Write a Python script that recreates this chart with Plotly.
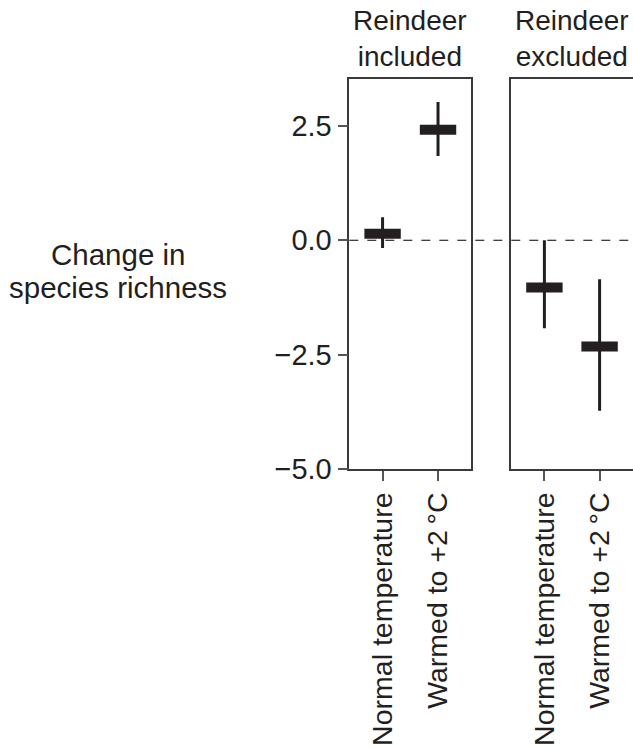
import plotly.graph_objects as go

categories = ["Normal temperature", "Warmed to +2\u2009°C"]
panels = ["Reindeer<br>included", "Reindeer<br>excluded"]
mean_included = [0.14, 2.41]
low_included = [-0.17, 1.84]
high_included = [0.50, 3.02]
mean_excluded = [-1.03, -2.32]
low_excluded = [-1.92, -3.72]
high_excluded = [0.00, -0.85]
yticks = [2.5, 0.0, -2.5, -5.0]
yticktext = ["2.5", "0.0", "\u22122.5", "\u22125.0"]
ytitle_lines = ["Change in", "species richness"]

W, H = 633, 749
DARK = "#231F20"
FONT = "Liberation Sans, Arial, Helvetica, sans-serif"

fig = go.Figure()

def px_x(v):
    return v / W

def px_y(v):
    return 1 - v / H

dom1 = [px_x(349.3), px_x(471.3)]
dom2 = [px_x(511.3), px_x(632.7)]
ydom = [px_y(469.3), px_y(79)]

series = [
    (mean_included, low_included, high_included, "x", "y"),
    (mean_excluded, low_excluded, high_excluded, "x2", "y2"),
]
for m, lo, hi, xa, ya in series:
    fig.add_trace(go.Scatter(
        x=categories, y=m, mode="markers", xaxis=xa, yaxis=ya,
        marker=dict(symbol="line-ew", size=26, color=DARK,
                    line=dict(width=10, color=DARK)),
        error_y=dict(type="data", symmetric=False,
                     array=[h - v for h, v in zip(hi, m)],
                     arrayminus=[v - l for v, l in zip(m, lo)],
                     width=0, thickness=3, color=DARK),
        showlegend=False, hoverinfo="skip",
    ))

axis_common = dict(showline=True, mirror=True, linecolor="#3a3a3a", linewidth=1.5,
                   showgrid=False, zeroline=False,
                   ticks="outside", ticklen=10, tickwidth=1.5, tickcolor="#555")
xfont = dict(size=28.5, color=DARK, family=FONT)
yfont = dict(size=29, color=DARK, family=FONT)

fig.update_layout(
    width=W, height=H, margin=dict(l=0, r=0, t=0, b=0, autoexpand=False),
    paper_bgcolor="white", plot_bgcolor="white",
    xaxis=dict(domain=dom1, anchor="y", type="category", range=[-0.6, 1.6],
               tickangle=-90, automargin=False, tickfont=xfont, **axis_common),
    xaxis2=dict(domain=dom2, anchor="y2", type="category", range=[-0.6, 1.6],
                tickangle=-90, automargin=False, tickfont=xfont, **axis_common),
    yaxis=dict(domain=ydom, anchor="x", range=[-5, 3.52], tickvals=yticks,
               ticktext=yticktext, automargin=False, tickfont=yfont, **axis_common),
    yaxis2=dict(domain=ydom, anchor="x2", range=[-5, 3.52], showticklabels=False,
                automargin=False, **{**axis_common, "ticks": ""}),
)

fig.add_shape(type="line", xref="paper", yref="y", x0=dom1[0], x1=1, y0=0, y1=0,
              line=dict(color="black", width=1.2, dash="dash"))

for t, dom in zip(panels, [dom1, dom2]):
    fig.add_annotation(text=t, xref="paper", yref="paper",
                       x=(dom[0] + dom[1]) / 2, y=px_y(38.5), showarrow=False,
                       xanchor="center", yanchor="middle",
                       font=dict(size=28, color=DARK, family=FONT))

for line, yc in zip(ytitle_lines, [255, 288]):
    fig.add_annotation(text=line, xref="paper", yref="paper",
                       x=px_x(118), y=px_y(yc), showarrow=False,
                       xanchor="center", yanchor="middle",
                       font=dict(size=29.5, color=DARK, family=FONT))

fig.write_html("out.html", config={"displayModeBar": False},
               post_script="document.body.style.margin='0px';")
